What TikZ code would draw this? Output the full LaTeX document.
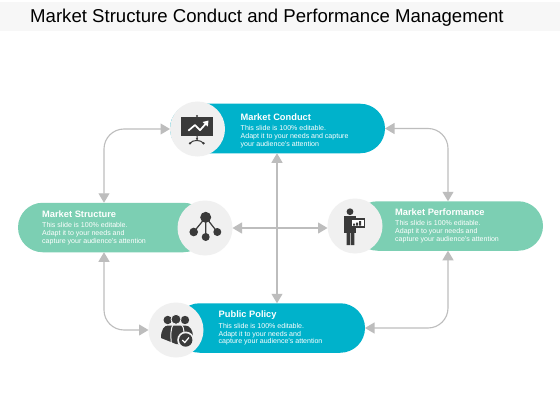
\documentclass[tikz,border=0pt]{standalone}
\usepackage{fontspec}
\setmainfont{Liberation Sans}
\usetikzlibrary{shapes.misc,arrows.meta}
\definecolor{teal1}{HTML}{00B2CB}
\definecolor{mint}{HTML}{7CCFB3}
\definecolor{ico}{HTML}{3A3A3A}
\definecolor{circ}{HTML}{F0F0F0}
\definecolor{conn}{HTML}{BDBDBD}
\tikzset{
  pill/.style={rounded rectangle,minimum height=49.5pt,inner sep=0pt,draw=none,outer sep=0pt},
  disc/.style={circle,fill=circ,minimum size=55pt,inner sep=0pt,outer sep=0pt},
  link/.style={draw=conn,line width=1.1pt,rounded corners=20pt,{Triangle[length=9.5pt,width=11pt]}-{Triangle[length=9.5pt,width=11pt]}},
  body/.style={align=left,anchor=north west,inner sep=0pt,text=white,font=\fontsize{7.05}{7.9}\selectfont},
  head/.style={anchor=north west,inner sep=0pt,text=white,font=\fontsize{9.3}{10}\selectfont\bfseries},
  icl/.style={draw=ico,line width=1.2pt}
}
\begin{document}
\begin{tikzpicture}[x=1pt,y=-1pt]
\useasboundingbox (0,0) rectangle (560,420);
\fill[white] (0,0) rectangle (560,420);
\fill[black!3] (0,2) rectangle (560,31);
\node[anchor=west,inner sep=0pt,font=\fontsize{18.6}{20}\selectfont] (title) at (30,17.5) {Market Structure Conduct and Performance Management};
% pills
\node[pill,fill=teal1,minimum width=215pt] (pC) at (277.5,128.5) {};
\node[pill,fill=mint,minimum width=190pt] (pS) at (113,227.5) {};
\node[pill,fill=mint,minimum width=190pt] (pP) at (448,226) {};
\node[pill,fill=teal1,minimum width=190pt] (pU) at (270,328) {};
% discs
\node[disc] (cC) at (197.5,129) {};
\node[disc] (cS) at (205,228) {};
\node[disc] (cP) at (355,226) {};
\node[disc] (cU) at (176,330) {};
% connectors
\draw[link] (cC.west) -| (pS.north -| 104,0);
\draw[link] (pC.east) -| (pP.north);
\draw[link] (pS.south -| 104,0) |- (cU.west);
\draw[link] (pP.south) |- (pU.east);
\draw[link] (pC.south -| 277,0) -- (pU.north -| 277,0);
\draw[link] (cS.east) -- (cP.west |- cS.east);
% texts
\node[head] (h1) at (240.5,113.5) {Market Conduct};
\node[body] (b1) at (240.5,125.2) {This slide is 100\% editable.\\Adapt it to your needs and capture\\your audience's attention};
\node[head] (h2) at (42,211) {Market Structure};
\node[body] (b2) at (42,222.6) {This slide is 100\% editable.\\Adapt it to your needs and\\capture your audience's attention};
\node[head] (h3) at (395,209) {Market Performance};
\node[body] (b3) at (395,220.6) {This slide is 100\% editable.\\Adapt it to your needs and\\capture your audience's attention};
\node[head] (h4) at (218.5,311) {Public Policy};
\node[body] (b4) at (218.5,322.8) {This slide is 100\% editable.\\Adapt it to your needs and\\capture your audience's attention};
% icon conduct (easel)
\fill[ico] (197,116) circle (1.2);
\fill[ico] (181,117.3) rectangle (213.3,136);
\draw[white,line width=1.7pt,line join=round] (188.3,130.7) -- (195,125) -- (200,130.2) -- (205.5,124);
\fill[white] (202.5,122) -- (208.5,120.5) -- (207.8,126.5) -- cycle;
\draw[ico,line width=1pt] (197,136) -- (197,139) (190,143.3) .. controls (192.5,139.5) and (201,139.5) .. (203.5,143.3);
\fill[ico] (190,143.3) circle (1.3) (203.5,143.3) circle (1.3) (197,138.8) circle (1.2);
% icon structure (network)
\draw[icl] (205.7,217.3) -- (193.7,232) (205.7,217.3) -- (205.7,237) (205.7,217.3) -- (217.3,232);
\fill[ico] (205.7,217.3) circle (5.5);
\fill[ico] (193.7,232) circle (4.3) (205.7,237) circle (4) (217.3,232) circle (4);
% icon performance (person with chart)
\fill[ico] (350,211.7) circle (3.4);
\fill[ico] (343.5,216) rectangle (355.5,233);
\fill[ico] (346.5,233) rectangle (350,245) (350.8,233) rectangle (354.3,245);
\fill[ico] (350,218) rectangle (365.3,227.5);
\fill[white] (351.5,219.5) rectangle (364,226);
\fill[ico] (353,225.5) rectangle (355,223.5) (356,225.5) rectangle (358,222.5) (359,225.5) rectangle (361,221);
% icon public policy (people)
\fill[ico] (167.7,320) circle (4.2) (185,320) circle (4.2);
\fill[ico] (161,338) .. controls (161,330) and (164,325.5) .. (168,325.5) -- (185,325.5) .. controls (190,325.5) and (193,330) .. (193,337) -- (186,345) -- (176,344) -- (161,338) -- cycle;
\draw[circ,line width=1pt] (171.5,345) .. controls (170.5,335) and (170.5,328) .. (173.5,324);
\draw[circ,line width=1pt] (181,324) .. controls (183,326) and (184,329) .. (184,332);
\draw[circ,line width=0.8pt,fill=ico] (176,319.3) circle (5);
\fill[circ] (185.7,340) circle (8.5);
\fill[ico] (185.7,340) circle (6.7);
\draw[white,line width=1.2pt] (182.3,340) -- (184.8,342.5) -- (189,337.5);
\end{tikzpicture}
\end{document}
